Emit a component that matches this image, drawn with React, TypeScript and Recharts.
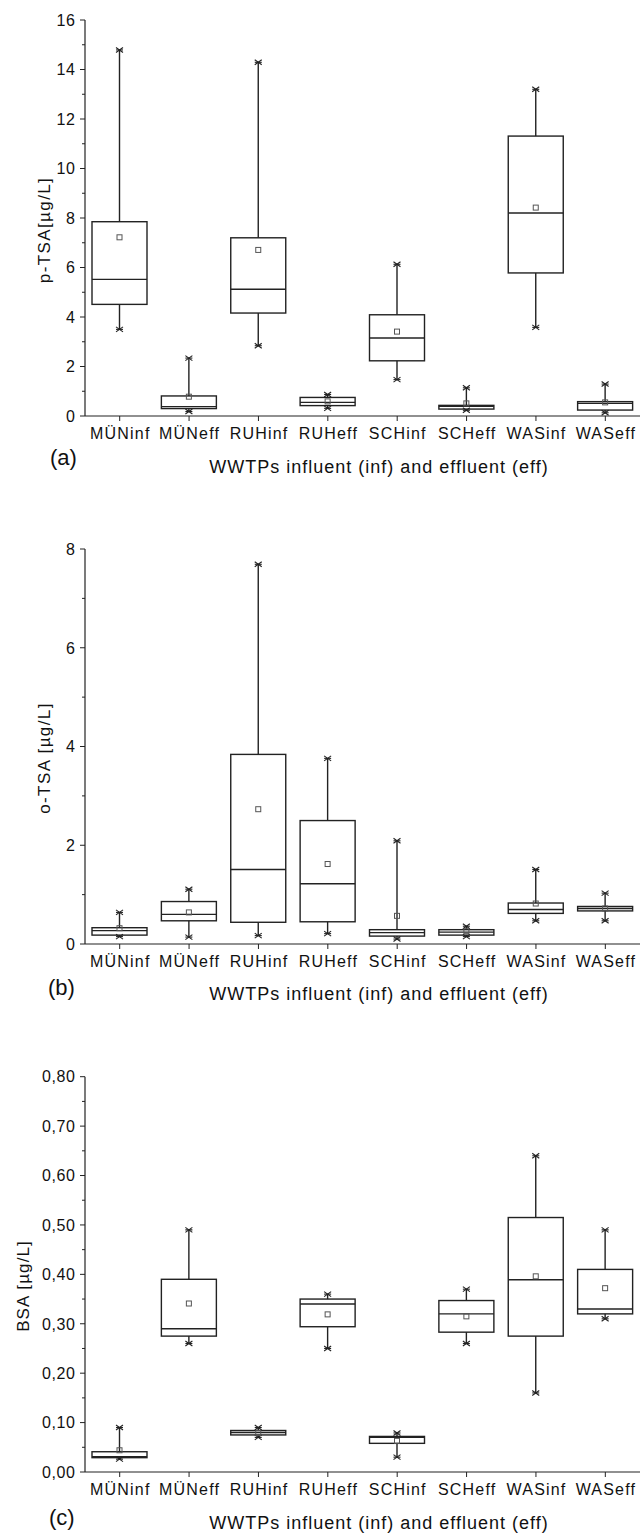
import { ComposedChart, Bar, XAxis, YAxis } from 'recharts';

// Box plots of sulfonamide-type compounds in WWTP influent/effluent.
// Each box: min / q1 / median / q3 / max whiskers plus the arithmetic mean (open square).

const CATEGORIES = ['MÜNinf', 'MÜNeff', 'RUHinf', 'RUHeff', 'SCHinf', 'SCHeff', 'WASinf', 'WASeff'];

// (a) p-TSA [µg/L]
const PTSA_MIN = [3.5, 0.18, 2.84, 0.31, 1.47, 0.23, 3.58, 0.13];
const PTSA_Q1 = [4.51, 0.3, 4.16, 0.42, 2.23, 0.28, 5.78, 0.24];
const PTSA_MEDIAN = [5.52, 0.38, 5.12, 0.55, 3.15, 0.39, 8.2, 0.51];
const PTSA_Q3 = [7.85, 0.81, 7.2, 0.75, 4.09, 0.43, 11.31, 0.58];
const PTSA_MAX = [14.79, 2.34, 14.29, 0.87, 6.13, 1.14, 13.2, 1.29];
const PTSA_MEAN = [7.22, 0.78, 6.71, 0.59, 3.41, 0.51, 8.42, 0.55];
const PTSA_TICKS = [0, 1, 2, 3, 4, 5, 6, 7, 8, 9, 10, 11, 12, 13, 14, 15, 16];

// (b) o-TSA [µg/L]
const OTSA_MIN = [0.15, 0.14, 0.17, 0.21, 0.1, 0.15, 0.47, 0.47];
const OTSA_Q1 = [0.18, 0.47, 0.44, 0.45, 0.16, 0.18, 0.62, 0.67];
const OTSA_MEDIAN = [0.27, 0.6, 1.51, 1.22, 0.23, 0.24, 0.7, 0.72];
const OTSA_Q3 = [0.33, 0.86, 3.84, 2.5, 0.29, 0.29, 0.83, 0.76];
const OTSA_MAX = [0.64, 1.11, 7.69, 3.76, 2.09, 0.36, 1.51, 1.03];
const OTSA_MEAN = [0.32, 0.64, 2.73, 1.62, 0.57, 0.26, 0.82, 0.72];
const OTSA_TICKS = [0, 1, 2, 3, 4, 5, 6, 7, 8];

// (c) BSA [µg/L]
const BSA_MIN = [0.026, 0.26, 0.07, 0.25, 0.03, 0.26, 0.16, 0.31];
const BSA_Q1 = [0.029, 0.275, 0.075, 0.294, 0.058, 0.283, 0.275, 0.32];
const BSA_MEDIAN = [0.031, 0.29, 0.08, 0.34, 0.07, 0.32, 0.389, 0.33];
const BSA_Q3 = [0.041, 0.39, 0.084, 0.35, 0.072, 0.347, 0.515, 0.41];
const BSA_MAX = [0.09, 0.49, 0.09, 0.36, 0.079, 0.37, 0.64, 0.49];
const BSA_MEAN = [0.044, 0.341, 0.079, 0.319, 0.063, 0.315, 0.396, 0.372];
const BSA_TICKS = [0, 0.05, 0.1, 0.15, 0.2, 0.25, 0.3, 0.35, 0.4, 0.45, 0.5, 0.55, 0.6, 0.65, 0.7, 0.75, 0.8];

const X_TITLE = 'WWTPs influent (inf) and effluent (eff)';
const FONT = '"Liberation Sans", Arial, sans-serif';
const INK = '#222';

interface BoxRow {
  name: string;
  min: number;
  q1: number;
  median: number;
  q3: number;
  max: number;
  mean: number;
}

function buildRows(min: number[], q1: number[], median: number[], q3: number[], max: number[], mean: number[]): BoxRow[] {
  return CATEGORIES.map((name, i) => ({
    name, min: min[i], q1: q1[i], median: median[i], q3: q3[i], max: max[i], mean: mean[i],
  }));
}

// Bar covers [min, max]; the rest of the box is placed by linear interpolation inside that span
function BoxShape(props: any) {
  const { x, y, width, height, payload } = props;
  if (!payload) return null;
  const top = Math.min(y, y + height);
  const bottom = Math.max(y, y + height);
  const { min, max } = payload as BoxRow;
  const py = (v: number) => (max === min ? bottom : bottom - ((v - min) / (max - min)) * (bottom - top));
  const cx = x + width / 2;
  const yq1 = py(payload.q1);
  const yq3 = py(payload.q3);
  const ymed = py(payload.median);
  const ymean = py(payload.mean);

  const marker = (my: number) => (
    <g stroke={INK} strokeWidth={1.1}>
      <line x1={cx - 3.5} y1={my - 2.5} x2={cx + 3.5} y2={my + 2.5} />
      <line x1={cx - 3.5} y1={my + 2.5} x2={cx + 3.5} y2={my - 2.5} />
      <line x1={cx - 3.5} y1={my} x2={cx + 3.5} y2={my} />
    </g>
  );

  return (
    <g>
      <line x1={cx} y1={top} x2={cx} y2={bottom} stroke={INK} strokeWidth={1.4} />
      <rect x={x} y={yq3} width={width} height={Math.max(yq1 - yq3, 0.5)} fill="#fff" stroke={INK} strokeWidth={1.4} />
      <line x1={x} y1={ymed} x2={x + width} y2={ymed} stroke={INK} strokeWidth={1.4} />
      {marker(top)}
      {marker(bottom)}
      <rect x={cx - 2.5} y={ymean - 2.5} width={5} height={5} fill="none" stroke="#555" strokeWidth={1} />
    </g>
  );
}

function YTick(props: any) {
  const { x, y, payload, index, format } = props;
  const major = index % 2 === 0;
  return (
    <g>
      <line x1={x} y1={y} x2={x - (major ? 5 : 3)} y2={y} stroke={INK} strokeWidth={1} />
      {major && (
        <text x={x - 9.5} y={y} dy="0.36em" textAnchor="end" fontSize={16} letterSpacing={0.6} fill="#111" fontFamily={FONT}>
          {format(payload.value)}
        </text>
      )}
    </g>
  );
}

function XTick(props: any) {
  const { x, y, payload } = props;
  return (
    <text x={x + 0.6} y={y + 18} textAnchor="middle" fontSize={16} letterSpacing={1.2} fill="#111" fontFamily={FONT}>
      {payload.value}
    </text>
  );
}

interface PanelProps {
  rows: BoxRow[];
  ticks: number[];
  format: (v: number) => string;
  top: number;
  height: number;
  marginTop: number;
  marginBottom: number;
}

function Panel({ rows, ticks, format, top, height, marginTop, marginBottom }: PanelProps) {
  return (
    <div style={{ position: 'absolute', left: 0, top, width: 640, height }}>
      <ComposedChart
        width={640}
        height={height}
        data={rows}
        margin={{ top: marginTop, right: 0, left: 0, bottom: marginBottom }}
      >
        <XAxis
          dataKey="name"
          interval={0}
          height={30}
          tickSize={5}
          tickMargin={0}
          axisLine={{ stroke: INK, strokeWidth: 1.2 }}
          tickLine={{ stroke: INK, strokeWidth: 1 }}
          tick={<XTick />}
        />
        <YAxis
          type="number"
          width={85}
          domain={[ticks[0], ticks[ticks.length - 1]]}
          ticks={ticks}
          interval={0}
          allowDataOverflow
          tickSize={0}
          tickMargin={0}
          tickLine={false}
          axisLine={{ stroke: INK, strokeWidth: 1.2 }}
          tick={<YTick format={format} />}
        />
        <Bar
          dataKey={(d: BoxRow) => [d.min, d.max]}
          barSize={55}
          isAnimationActive={false}
          shape={(p: any) => <BoxShape {...p} />}
        />
      </ComposedChart>
    </div>
  );
}

const intFmt = (v: number) => String(v);
const commaFmt = (v: number) => v.toFixed(2).replace('.', ',');

export default function App() {
  const ptsa = buildRows(PTSA_MIN, PTSA_Q1, PTSA_MEDIAN, PTSA_Q3, PTSA_MAX, PTSA_MEAN);
  const otsa = buildRows(OTSA_MIN, OTSA_Q1, OTSA_MEDIAN, OTSA_Q3, OTSA_MAX, OTSA_MEAN);
  const bsa = buildRows(BSA_MIN, BSA_Q1, BSA_MEDIAN, BSA_Q3, BSA_MAX, BSA_MEAN);

  return (
    <div style={{ position: 'absolute', left: 0, top: 0, width: 640, height: 1535, background: '#fff', fontFamily: FONT }}>
      <Panel rows={ptsa} ticks={PTSA_TICKS} format={intFmt} top={0} height={500} marginTop={20} marginBottom={54} />
      <Panel rows={otsa} ticks={OTSA_TICKS} format={intFmt} top={500} height={528} marginTop={49} marginBottom={54} />
      <Panel rows={bsa} ticks={BSA_TICKS} format={commaFmt} top={1028} height={507} marginTop={48.7} marginBottom={33} />

      {/* panel letters, axis titles */}
      <svg width={640} height={1535} style={{ position: 'absolute', left: 0, top: 0, pointerEvents: 'none' }} fontFamily={FONT} fill="#111">
        <text x={50} y={465} fontSize={22}>(a)</text>
        <text x={48} y={995} fontSize={22}>(b)</text>
        <text x={49} y={1525} fontSize={22}>(c)</text>

        <text x={379} y={473} fontSize={18} letterSpacing={1} textAnchor="middle">{X_TITLE}</text>
        <text x={379} y={1000} fontSize={18} letterSpacing={1} textAnchor="middle">{X_TITLE}</text>
        <text x={379} y={1529} fontSize={18} letterSpacing={1} textAnchor="middle">{X_TITLE}</text>

        <text x={44} y={230} dy="0.36em" fontSize={17} letterSpacing={1.4} textAnchor="middle" transform="rotate(-90 44 230)">p-TSA[µg/L]</text>
        <text x={44} y={758} dy="0.36em" fontSize={17} letterSpacing={1.4} textAnchor="middle" transform="rotate(-90 44 758)">o-TSA [µg/L]</text>
        <text x={23} y={1286} dy="0.36em" fontSize={17} letterSpacing={1.1} textAnchor="middle" transform="rotate(-90 23 1286)">BSA [µg/L]</text>
      </svg>
    </div>
  );
}
